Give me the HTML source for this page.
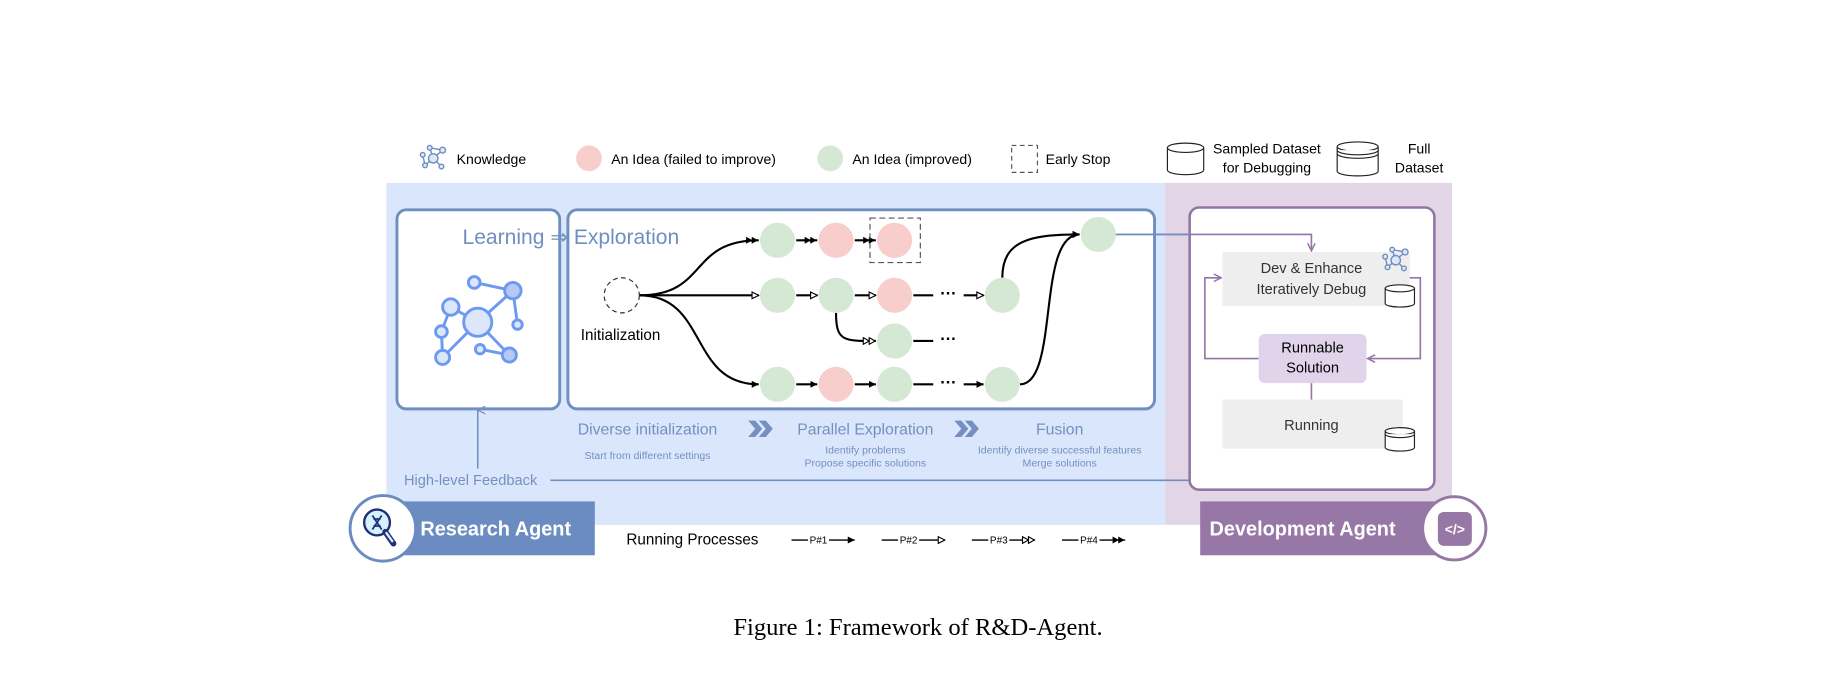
<!DOCTYPE html>
<html><head><meta charset="utf-8"><style>
html,body{margin:0;padding:0;background:#fff;width:1836px;height:689px;overflow:hidden}
svg{display:block}
text{font-family:"Liberation Sans",sans-serif}
</style></head><body>
<svg width="1836" height="689" viewBox="0 0 1568 588" xmlns="http://www.w3.org/2000/svg">
<defs>
<marker id="f" viewBox="0 0 10 10" refX="10" refY="5" markerWidth="6" markerHeight="6" orient="auto" markerUnits="userSpaceOnUse"><path d="M0,0L10,5L0,10z" fill="#000"/></marker>
<marker id="ff" viewBox="0 0 18 10" refX="18" refY="5" markerWidth="11" markerHeight="6" orient="auto" markerUnits="userSpaceOnUse"><path d="M0,0L9,5L0,10zM8,0L17,5L8,10z" fill="#000"/></marker>
<marker id="o" viewBox="0 0 11 11" refX="10" refY="5.5" markerWidth="7" markerHeight="7" orient="auto" markerUnits="userSpaceOnUse"><path d="M1,1L10,5.5L1,10z" fill="#fff" stroke="#000" stroke-width="1.5"/></marker>
<marker id="oo" viewBox="0 0 19 11" refX="18" refY="5.5" markerWidth="12" markerHeight="7" orient="auto" markerUnits="userSpaceOnUse"><path d="M1,1L9,5.5L1,10zM9,1L17,5.5L9,10z" fill="#fff" stroke="#000" stroke-width="1.5"/></marker>
<marker id="pa" viewBox="0 0 10 10" refX="9" refY="5" markerWidth="8" markerHeight="8" orient="auto" markerUnits="userSpaceOnUse"><path d="M1,1L9,5L1,9" fill="none" stroke="#9575a6" stroke-width="1.6"/></marker>
<marker id="ba" viewBox="0 0 10 10" refX="5" refY="1" markerWidth="8" markerHeight="8" orient="auto-start-reverse" markerUnits="userSpaceOnUse"><path d="M1,9L5,1L9,9" fill="none" stroke="#6f8fc0" stroke-width="1.3"/></marker>
<g id="kn" fill="#dde6fb" stroke="#6f8fc0" stroke-width="1.2">
<line x1="0" y1="0" x2="-3" y2="-9"/><line x1="0" y1="0" x2="8" y2="-7"/><line x1="0" y1="0" x2="-7" y2="6"/><line x1="0" y1="0" x2="7" y2="7"/><line x1="-3" y1="-9" x2="8" y2="-7"/><line x1="-7" y1="6" x2="-9" y2="-3"/>
<circle r="4"/><circle cx="-3" cy="-9" r="2"/><circle cx="8" cy="-7" r="2.5"/><circle cx="-7" cy="6" r="2"/><circle cx="7" cy="7" r="2"/><circle cx="-9" cy="-3" r="2"/>
</g>
</defs>

<!-- legend -->
<use href="#kn" x="370" y="135"/>
<text x="390" y="140" font-size="12">Knowledge</text>
<circle cx="503" cy="135" r="11" fill="#f8cecc"/>
<text x="522" y="140" font-size="12">An Idea (failed to improve)</text>
<circle cx="709" cy="135" r="11" fill="#d5e8d4"/>
<text x="728" y="140" font-size="12">An Idea (improved)</text>
<rect x="864" y="124" width="22" height="23" fill="none" stroke="#555" stroke-dasharray="4,3"/>
<text x="893" y="140" font-size="12">Early Stop</text>
<g fill="#fff" stroke="#222" stroke-width="1"><path d="M997,126v19a15.5,4 0 0 0 31,0v-19"/><ellipse cx="1012.5" cy="126" rx="15.5" ry="4"/></g>
<text x="1082" y="131" font-size="12" text-anchor="middle">Sampled Dataset</text>
<text x="1082" y="147" font-size="12" text-anchor="middle">for Debugging</text>
<g fill="#fff" stroke="#222" stroke-width="1"><path d="M1142,125v21a17.5,4 0 0 0 35,0v-21"/><ellipse cx="1159.5" cy="125" rx="17.5" ry="4"/><path d="M1142,128a17.5,4 0 0 0 35,0M1142,131a17.5,4 0 0 0 35,0"/></g>
<text x="1212" y="131" font-size="12" text-anchor="middle">Full</text>
<text x="1212" y="147" font-size="12" text-anchor="middle">Dataset</text>

<!-- backgrounds -->
<rect x="330" y="156" width="665" height="292" fill="#dae6fb"/>
<rect x="995" y="156" width="245" height="292" fill="#e2d5e6"/>

<!-- learning box -->
<rect x="339" y="179" width="139" height="170" rx="8" fill="#fff" stroke="#6f8fc0" stroke-width="2.5"/>
<rect x="485" y="179" width="501" height="170" rx="8" fill="#fff" stroke="#6f8fc0" stroke-width="2.5"/>
<text x="395" y="208" font-size="18" fill="#6f8fc0">Learning ⇒ Exploration</text>
<g fill="#dde6fb" stroke="#6d9af0" stroke-width="2.5">
<line x1="408" y1="275" x2="438" y2="248"/><line x1="408" y1="275" x2="385" y2="262"/><line x1="408" y1="275" x2="378" y2="305"/><line x1="408" y1="275" x2="435" y2="303"/><line x1="405" y1="241" x2="438" y2="248"/><line x1="438" y1="248" x2="442" y2="277"/><line x1="385" y1="262" x2="377" y2="283"/><line x1="410" y1="298" x2="435" y2="303"/><line x1="377" y1="283" x2="378" y2="305"/>
<circle cx="408" cy="275" r="12"/><circle cx="405" cy="241" r="5"/><circle cx="438" cy="248" r="7" fill="#b6c8f6"/><circle cx="385" cy="262" r="7"/><circle cx="377" cy="283" r="5"/><circle cx="442" cy="277" r="4"/><circle cx="378" cy="305" r="6"/><circle cx="410" cy="298" r="4"/><circle cx="435" cy="303" r="6" fill="#b6c8f6"/>
</g>

<!-- connectors -->
<g fill="none" stroke="#000" stroke-width="1.8">
<path d="M546,252 C605,252 588,205 648,205" marker-end="url(#ff)"/>
<path d="M546,252 L648,252" marker-end="url(#o)"/>
<path d="M546,252 C605,252 588,328 648,328" marker-end="url(#f)"/>
<path d="M680,205 L698,205" marker-end="url(#ff)"/>
<path d="M730,205 L748,205" marker-end="url(#ff)"/>
<path d="M680,252 L698,252" marker-end="url(#o)"/>
<path d="M730,252 L748,252" marker-end="url(#o)"/>
<path d="M780,252 L797,252"/><path d="M823,252 L840,252" marker-end="url(#o)"/>
<path d="M714,267 C714,291 720,291 748,291" marker-end="url(#oo)"/>
<path d="M780,291 L797,291"/>
<path d="M680,328 L698,328" marker-end="url(#f)"/>
<path d="M730,328 L748,328" marker-end="url(#f)"/>
<path d="M780,328 L797,328"/><path d="M823,328 L840,328" marker-end="url(#f)"/>
<path d="M856,237 C856,205 880,200 922,200" marker-end="url(#f)"/>
<path d="M871,328 C905,328 885,200 922,200" marker-end="url(#f)"/>
</g>
<g font-size="14" font-weight="bold" text-anchor="middle"><text x="810" y="255">···</text><text x="810" y="294">···</text><text x="810" y="331">···</text></g>
<circle cx="531" cy="252" r="15" fill="#fff" stroke="#333" stroke-dasharray="4,3"/>
<text x="530" y="290" font-size="13" text-anchor="middle">Initialization</text>
<g>
<circle cx="664" cy="205" r="15" fill="#d5e8d4"/><circle cx="714" cy="205" r="15" fill="#f8cecc"/><circle cx="764" cy="205" r="15" fill="#f8cecc"/>
<rect x="743" y="186" width="43" height="38" fill="none" stroke="#555" stroke-dasharray="5,3"/>
<circle cx="664" cy="252" r="15" fill="#d5e8d4"/><circle cx="714" cy="252" r="15" fill="#d5e8d4"/><circle cx="764" cy="252" r="15" fill="#f8cecc"/><circle cx="856" cy="252" r="15" fill="#d5e8d4"/>
<circle cx="764" cy="291" r="15" fill="#d5e8d4"/>
<circle cx="664" cy="328" r="15" fill="#d5e8d4"/><circle cx="714" cy="328" r="15" fill="#f8cecc"/><circle cx="764" cy="328" r="15" fill="#d5e8d4"/><circle cx="856" cy="328" r="15" fill="#d5e8d4"/>
<circle cx="938" cy="200" r="15" fill="#d5e8d4"/>
</g>

<!-- stage labels -->
<g fill="#7590c0" text-anchor="middle">
<text x="553" y="371" font-size="13.5">Diverse initialization</text>
<text x="739" y="371" font-size="13.5">Parallel Exploration</text>
<text x="905" y="371" font-size="13.5">Fusion</text>
<text x="553" y="392" font-size="9">Start from different settings</text>
<text x="739" y="387" font-size="9">Identify problems</text>
<text x="739" y="398" font-size="9">Propose specific solutions</text>
<text x="905" y="387" font-size="9">Identify diverse successful features</text>
<text x="905" y="398" font-size="9">Merge solutions</text>
</g>
<g fill="#7590c0"><path d="M639,359h6l6,7l-6,7h-6l6,-7z"/><path d="M648,359h6l6,7l-6,7h-6l6,-7z"/><path d="M815,359h6l6,7l-6,7h-6l6,-7z"/><path d="M824,359h6l6,7l-6,7h-6l6,-7z"/></g>

<!-- feedback -->
<text x="345" y="414" font-size="12.5" fill="#7590c0">High-level Feedback</text>
<path d="M470,410 H1120 V383" fill="none" stroke="#6f8fc0" stroke-width="1.4"/>
<path d="M408,400 V350" fill="none" stroke="#6f8fc0" stroke-width="1.3" marker-end="url(#ba)"/>
<path d="M1120,410 V383" fill="none" stroke="#9575a6" stroke-width="1.4"/>

<!-- dev box -->
<rect x="1016" y="177" width="209" height="241" rx="8" fill="#fff" stroke="#9575a6" stroke-width="2.2"/>
<path d="M953,200 H1120 V214" fill="none" stroke="#9575a6" stroke-width="1.4" marker-end="url(#pa)"/>
<path d="M953,200 H1016" fill="none" stroke="#6f8fc0" stroke-width="1.4"/>
<rect x="1044" y="215" width="160" height="46" fill="#eeeeee"/>
<text x="1120" y="233" font-size="12.5" text-anchor="middle" fill="#333">Dev &amp; Enhance</text>
<text x="1120" y="251" font-size="12.5" text-anchor="middle" fill="#333">Iteratively Debug</text>
<use href="#kn" x="1192" y="222"/>
<g fill="#fff" stroke="#222" stroke-width="1"><path d="M1183,246v13a12.5,3 0 0 0 25,0v-13"/><ellipse cx="1195.5" cy="246" rx="12.5" ry="3"/></g>
<path d="M1075,306 H1029 V237 H1043" fill="none" stroke="#9575a6" stroke-width="1.4" marker-end="url(#pa)"/>
<path d="M1204,237 H1213 V306 H1168" fill="none" stroke="#9575a6" stroke-width="1.4" marker-end="url(#pa)"/>
<rect x="1075" y="285" width="92" height="42" rx="5" fill="#e0d3ea"/>
<text x="1121" y="301" font-size="12.5" text-anchor="middle">Runnable</text>
<text x="1121" y="318" font-size="12.5" text-anchor="middle">Solution</text>
<path d="M1120,327 V341" stroke="#9575a6" stroke-width="1.4"/>
<rect x="1044" y="341" width="154" height="42" fill="#eeeeee"/>
<text x="1120" y="367" font-size="12.5" text-anchor="middle" fill="#333">Running</text>
<g fill="#fff" stroke="#222" stroke-width="1"><path d="M1183,368v14a12.5,3 0 0 0 25,0v-14"/><ellipse cx="1195.5" cy="368" rx="12.5" ry="3"/><path d="M1183,370.5a12.5,3 0 0 0 25,0"/></g>

<!-- research agent badge -->
<rect x="345" y="428" width="163" height="46" fill="#6b8cc0"/>
<circle cx="327" cy="451" r="28" fill="#fff" stroke="#6b8cc0" stroke-width="2.5"/>
<circle cx="322" cy="446" r="11" fill="#d6f1fb" stroke="#1f2f78" stroke-width="2"/>
<path d="M329,454 L336,464" stroke="#1f2f78" stroke-width="5" stroke-linecap="round"/>
<path d="M330,455 L335,462" stroke="#d6f1fb" stroke-width="2" stroke-linecap="round"/>
<path d="M318,440 L326,452 M326,440 L318,452 M319,443h6M319,449h6" stroke="#1f2f78" stroke-width="1.5" fill="none"/>
<text x="359" y="457" font-size="17" font-weight="bold" fill="#fff">Research Agent</text>

<!-- running processes -->
<text x="535" y="465" font-size="13">Running Processes</text>
<g stroke="#000" stroke-width="1.2" fill="none">
<path d="M676,461h14M708,461h22" marker-end="url(#f)"/>
<path d="M753,461h14M785,461h22" marker-end="url(#o)"/>
<path d="M830,461h14M862,461h22" marker-end="url(#oo)"/>
<path d="M907,461h14M939,461h22" marker-end="url(#ff)"/>
</g>
<g font-size="8.5" text-anchor="middle"><text x="699" y="464">P#1</text><text x="776" y="464">P#2</text><text x="853" y="464">P#3</text><text x="930" y="464">P#4</text></g>

<!-- development agent badge -->
<rect x="1025" y="428" width="205" height="46" fill="#9777a6"/>
<text x="1033" y="457" font-size="17" font-weight="bold" fill="#fff">Development Agent</text>
<circle cx="1242" cy="451" r="27" fill="#fff" stroke="#9777a6" stroke-width="2.5"/>
<rect x="1228" y="437" width="29" height="29" rx="5" fill="#9777a6"/>
<text x="1242.5" y="456" font-size="12" fill="#fff" text-anchor="middle" font-weight="bold">&lt;/&gt;</text>

<text x="784" y="542" font-size="21" text-anchor="middle" style="font-family:'Liberation Serif',serif">Figure 1: Framework of R&amp;D-Agent.</text>
</svg>
</body></html>
